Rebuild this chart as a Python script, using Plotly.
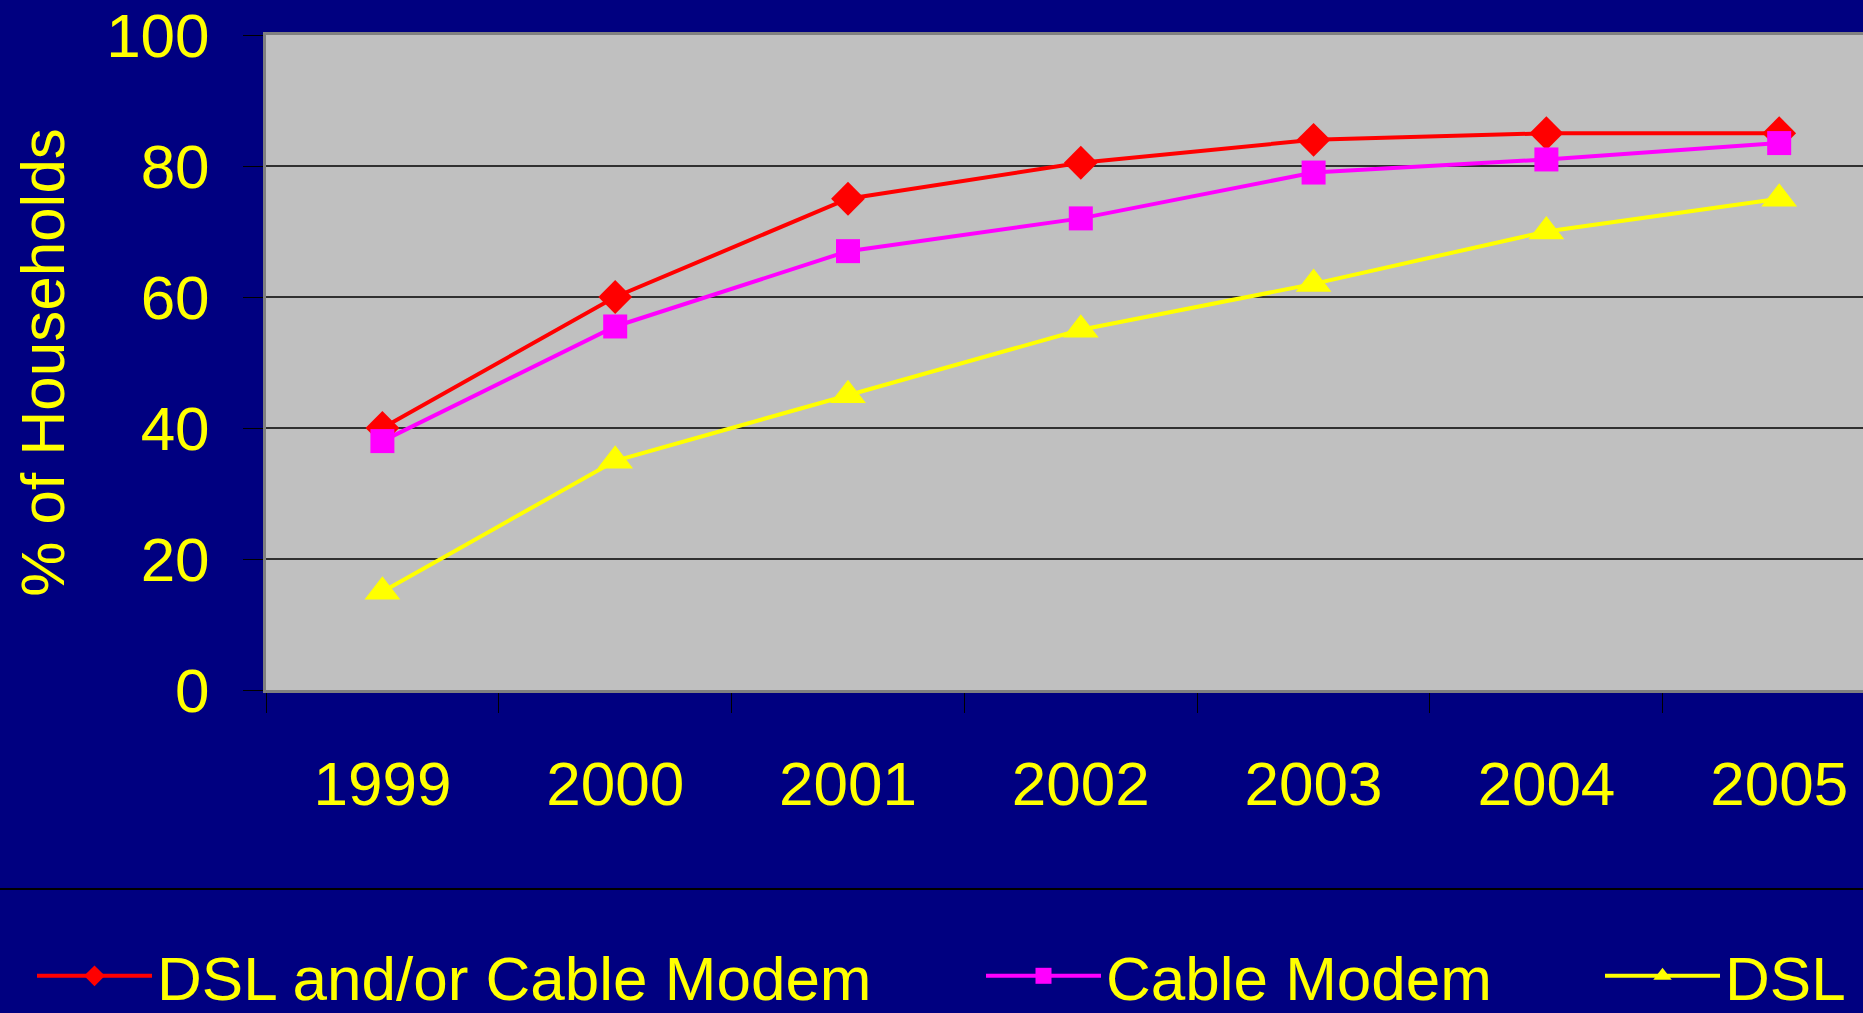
import plotly.graph_objects as go

# Data
years = ['1999', '2000', '2001', '2002', '2003', '2004', '2005']
dsl_or_cable = [40, 60, 75, 80.5, 84, 85, 85]
cable_modem = [38, 55.5, 67, 72, 79, 81, 83.5]
dsl = [15, 35, 45, 55, 62, 70, 75]
y_ticks = [0, 20, 40, 60, 80, 100]

W, H = 1863, 1013
L, R, T, B = 266, 0, 35, 323
pw = W - L - R
ph = H - T - B

def px_y(p):
    return (H - B - p) / ph

navy = '#000080'
yellow = '#FFFF00'
font_name = 'Liberation Sans, Arial, sans-serif'

series = [
    ('DSL and/or Cable Modem', dsl_or_cable, '#FF0000', 'diamond', 26, 'legend'),
    ('Cable Modem', cable_modem, '#FF00FF', 'square', 24, 'legend2'),
    ('DSL', dsl, '#FFFF00', 'triangle-up', 31, 'legend3'),
]

fig = go.Figure()
for name, vals, col, sym, sz, lg in series:
    fig.add_trace(go.Scatter(
        x=years, y=vals, name=name, mode='lines+markers',
        line=dict(color=col, width=4),
        marker=dict(symbol=sym, size=sz, color=col),
        legend=lg,
    ))

# legends sit in container coordinates so they don't push the margins
legend_common = dict(
    orientation='h', yanchor='middle', xanchor='left',
    xref='container', yref='container',
    y=(H - 976) / H, bgcolor='rgba(0,0,0,0)',
    font=dict(family=font_name, size=62, color=yellow),
    itemwidth=115,
)

fig.update_layout(
    width=W, height=H,
    margin=dict(l=L, r=R, t=T, b=B, autoexpand=False),
    paper_bgcolor=navy,
    plot_bgcolor='#C0C0C0',
    font=dict(family=font_name, size=62, color=yellow),
    showlegend=True,
    legend=dict(x=32 / W, **legend_common),
    legend2=dict(x=981 / W, **legend_common),
    legend3=dict(x=1600 / W, **legend_common),
    xaxis=dict(
        type='category', range=[-0.5, 6.36],
        tickson='boundaries', ticks='outside', ticklen=20,
        tickcolor='black', tickwidth=1,
        showgrid=False, showline=True, linecolor='#808080', linewidth=3,
        mirror=True, ticklabelstandoff=38,
        tickfont=dict(family=font_name, size=62, color=yellow),
    ),
    yaxis=dict(
        range=[0, 100], tickvals=y_ticks,
        ticks='outside', ticklen=20, tickcolor='black', tickwidth=1,
        showgrid=True, gridcolor='#303030', gridwidth=1.5,
        showline=True, linecolor='#808080', linewidth=3, mirror=True,
        zeroline=False, ticklabelstandoff=21,
        tickfont=dict(family=font_name, size=62, color=yellow),
        title=dict(text='% of Households', standoff=22,
                   font=dict(family=font_name, size=62, color=yellow)),
    ),
    shapes=[
        dict(type='line', xref='paper', yref='paper',
             x0=-1, x1=2, y0=px_y(889), y1=px_y(889),
             line=dict(color='black', width=2)),
    ],
)

fig.write_html('out.html', config={'displayModeBar': False},
               post_script="document.body.style.margin='0';"
                           "document.body.style.overflow='hidden';")
